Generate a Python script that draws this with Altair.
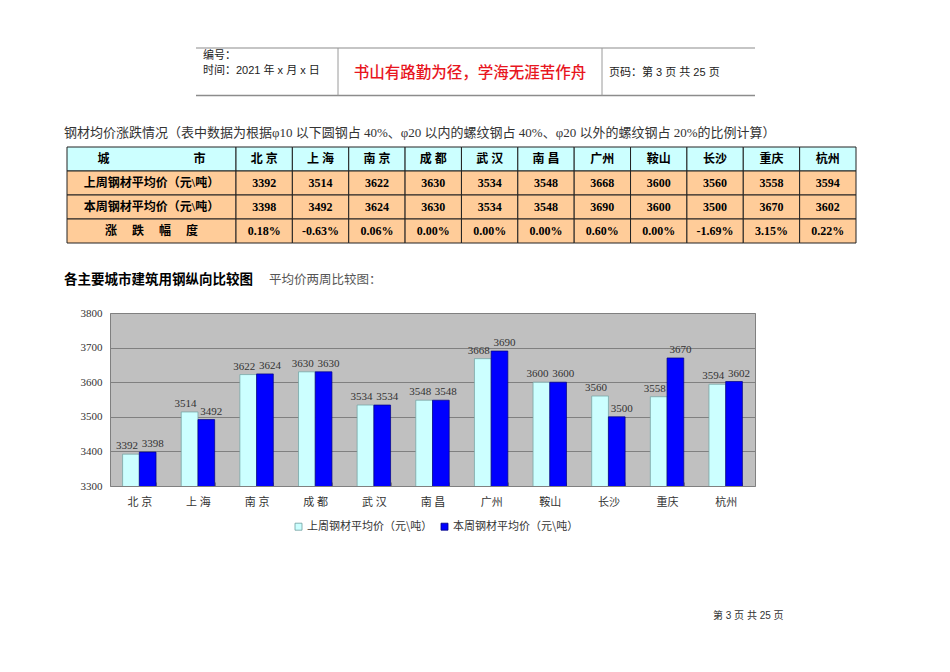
import altair as alt
import pandas as pd

# ---------------- data ----------------
cities = ["北 京", "上 海", "南 京", "成 都", "武 汉", "南 昌", "广州", "鞍山", "长沙", "重庆", "杭州"]
last_week = [3392, 3514, 3622, 3630, 3534, 3548, 3668, 3600, 3560, 3558, 3594]
this_week = [3398, 3492, 3624, 3630, 3534, 3548, 3690, 3600, 3500, 3670, 3602]
changes = ["0.18%", "-0.63%", "0.06%", "0.00%", "0.00%", "0.00%", "0.60%", "0.00%", "-1.69%", "3.15%", "0.22%"]
series_names = ["上周钢材平均价（元\\吨）", "本周钢材平均价（元\\吨）"]
row_labels = ["城　　　　　　　市", "上周钢材平均价（元\\吨）", "本周钢材平均价（元\\吨）", "涨　 跌　 幅　 度"]
y_ticks = [3300, 3400, 3500, 3600, 3700, 3800]

header_left_1 = "编号："
header_left_2 = "时间：2021 年 x 月 x 日"
header_motto = "书山有路勤为径，学海无涯苦作舟"
header_right = "页码：第 3 页  共 25 页"
caption = "钢材均价涨跌情况（表中数据为根据φ10 以下圆钢占 40%、φ20 以内的螺纹钢占 40%、φ20 以外的螺纹钢占 20%的比例计算）"
chart_title = "各主要城市建筑用钢纵向比较图"
chart_subtitle = "平均价两周比较图："
footer = "第 3 页  共 25 页"

SERIF = "Liberation Serif, Noto Sans CJK SC"
SANS = "Liberation Sans, Noto Sans CJK SC"

# ---------------- tables built from arrays ----------------
bar_df = pd.DataFrame({
    "city": cities * 2,
    "series": [series_names[0]] * len(cities) + [series_names[1]] * len(cities),
    "value": last_week + this_week,
})

first_col_df = pd.DataFrame({"col": ["label"] * 4, "row": [0, 1, 2, 3], "text": row_labels})

cell_rows = []
for i, c in enumerate(cities):
    cell_rows.append({"city": c, "row": 0, "text": c})
    cell_rows.append({"city": c, "row": 1, "text": str(last_week[i])})
    cell_rows.append({"city": c, "row": 2, "text": str(this_week[i])})
    cell_rows.append({"city": c, "row": 3, "text": changes[i]})
cells_df = pd.DataFrame(cell_rows)

one = pd.DataFrame({"k": [0]})

# ---------------- bar chart ----------------
x_enc = alt.X(
    "city:N", sort=cities, title=None,
    scale=alt.Scale(domain=cities, paddingInner=0.43, paddingOuter=0.215),
    axis=alt.Axis(labelAngle=0, labelFont=SERIF, labelFontSize=11, labelColor="#333333",
                  labelPadding=10, tickBand="extent", tickSize=4, tickColor="#808080",
                  offset=-4, domain=False, grid=False,
                  labelExpr="replace(datum.label, ' ', '  ')"),
)
xo_enc = alt.XOffset("series:N", sort=series_names, scale=alt.Scale(domain=series_names))
y_enc = alt.Y(
    "value:Q", title=None,
    scale=alt.Scale(domain=[3300, 3800], zero=False, nice=False),
    axis=alt.Axis(values=y_ticks, format="d", labelFont=SERIF, labelFontSize=11,
                  labelColor="#333333", labelPadding=8, ticks=False, domain=False,
                  grid=True, gridColor="#808080", gridWidth=1),
)

bars = alt.Chart(bar_df).mark_bar(strokeWidth=0.7, clip=True).encode(
    x=x_enc, xOffset=xo_enc, y=y_enc,
    color=alt.Color("series:N", sort=series_names,
                    scale=alt.Scale(domain=series_names, range=["#ccffff", "#0000ff"]),
                    legend=alt.Legend(title=None, orient="none", legendX=183, legendY=208,
                                      direction="horizontal", symbolType="square", symbolSize=49,
                                      symbolStrokeColor="#333333", symbolStrokeWidth=0.8,
                                      labelFont="Noto Sans CJK SC", labelFontSize=11,
                                      labelColor="#333333", columnPadding=6, labelOffset=3)),
    stroke=alt.Stroke("series:N", scale=alt.Scale(domain=series_names, range=["#6f9f9f", "#00007f"]),
                      legend=None),
)

lbl_last = alt.Chart(bar_df).transform_filter(alt.datum.series == series_names[0]).mark_text(
    dx=-4, dy=-5, baseline="alphabetic", font=SERIF, fontSize=11, color="#333333"
).encode(x=x_enc, xOffset=xo_enc, y=y_enc, text=alt.Text("value:Q", format="d"))

lbl_this = alt.Chart(bar_df).transform_filter(alt.datum.series == series_names[1]).mark_text(
    dx=5, dy=-5, baseline="alphabetic", font=SERIF, fontSize=11, color="#333333"
).encode(x=x_enc, xOffset=xo_enc, y=y_enc, text=alt.Text("value:Q", format="d"))

bar_layer = alt.layer(bars, lbl_last, lbl_this)

# ---------------- data table ----------------
cell_fill = alt.condition(alt.datum.row == 0, alt.value("#ccffff"), alt.value("#ffcc99"))
row_enc = alt.Y("row:O", axis=None,
                scale=alt.Scale(domain=[0, 1, 2, 3], range=[-166, -70], paddingInner=0, paddingOuter=0))

first_x = alt.X("col:N", axis=None, scale=alt.Scale(range=[-43, 126], paddingInner=0, paddingOuter=0))
first_rect = alt.Chart(first_col_df).mark_rect(stroke="#222222", strokeWidth=1).encode(
    x=first_x, y=row_enc, fill=cell_fill)
first_text = alt.Chart(first_col_df).mark_text(font=SERIF, fontSize=12, fontWeight="bold", color="#000000").encode(
    x=first_x, y=row_enc, text="text:N")
first_block = alt.layer(first_rect, first_text)

cells_x = alt.X("city:N", sort=cities, axis=None,
                scale=alt.Scale(domain=cities, range=[126, 746], paddingInner=0, paddingOuter=0))
cells_rect = alt.Chart(cells_df).mark_rect(stroke="#222222", strokeWidth=1).encode(
    x=cells_x, y=row_enc, fill=cell_fill)
cells_text = alt.Chart(cells_df).mark_text(font=SERIF, fontSize=12, fontWeight="bold", color="#000000").encode(
    x=cells_x, y=row_enc, text="text:N")
cells_block = alt.layer(cells_rect, cells_text)

# ---------------- page decorations (header, captions, footer) ----------------
def rule(x, x2=None, y=None, y2=None, color="#808080", width=1.2):
    enc = {"x": alt.value(x), "y": alt.value(y)}
    if x2 is not None:
        enc["x2"] = alt.value(x2)
    if y2 is not None:
        enc["y2"] = alt.value(y2)
    return alt.Chart(one).mark_rule(color=color, strokeWidth=width).encode(**enc)

def label(txt, x, y, font=SANS, size=11, color="#222222", weight="normal", align="left"):
    return alt.Chart(one).mark_text(align=align, baseline="middle", font=font, fontSize=size,
                                    color=color, fontWeight=weight).encode(
        x=alt.value(x), y=alt.value(y), text=alt.value(txt))

decor = [
    rule(86, x2=645, y=-265, color="#8c8c8c", width=1.2),
    rule(86, x2=645, y=-217.5, color="#8c8c8c", width=1.5),
    rule(228, y=-265, y2=-217.5, color="#9a9a9a", width=1),
    rule(492, y=-265, y2=-217.5, color="#9a9a9a", width=1),
    label(header_left_1, 93, -257),
    label(header_left_2, 93, -242.5),
    label(header_motto, 360, -240, font="Noto Sans CJK SC", size=15.5, color="#e8161e", align="center", weight=500),
    label(header_right, 499, -240),
    label(caption, -46, -180, font=SERIF, size=13, color="#333333"),
    label(chart_title, -46, -33, font="Noto Sans CJK SC", size=13.5, color="#000000", weight="bold"),
    label(chart_subtitle, 159, -33, font="Noto Sans CJK SC", size=12.5, color="#555555"),
    label(footer, 603, 303, font=SANS, size=10, color="#333333"),
]

chart = alt.layer(bar_layer, first_block, cells_block, *decor).resolve_scale(
    x="independent", y="independent"
).properties(
    width=645, height=173,
    autosize=alt.AutoSizeParams(type="none"),
    padding={"left": 102, "top": 305, "right": 187, "bottom": 178},
).configure_view(
    fill="#c0c0c0", stroke="#808080", strokeWidth=1
)

chart.save("out.html", embed_options={"renderer": "svg", "actions": False})
